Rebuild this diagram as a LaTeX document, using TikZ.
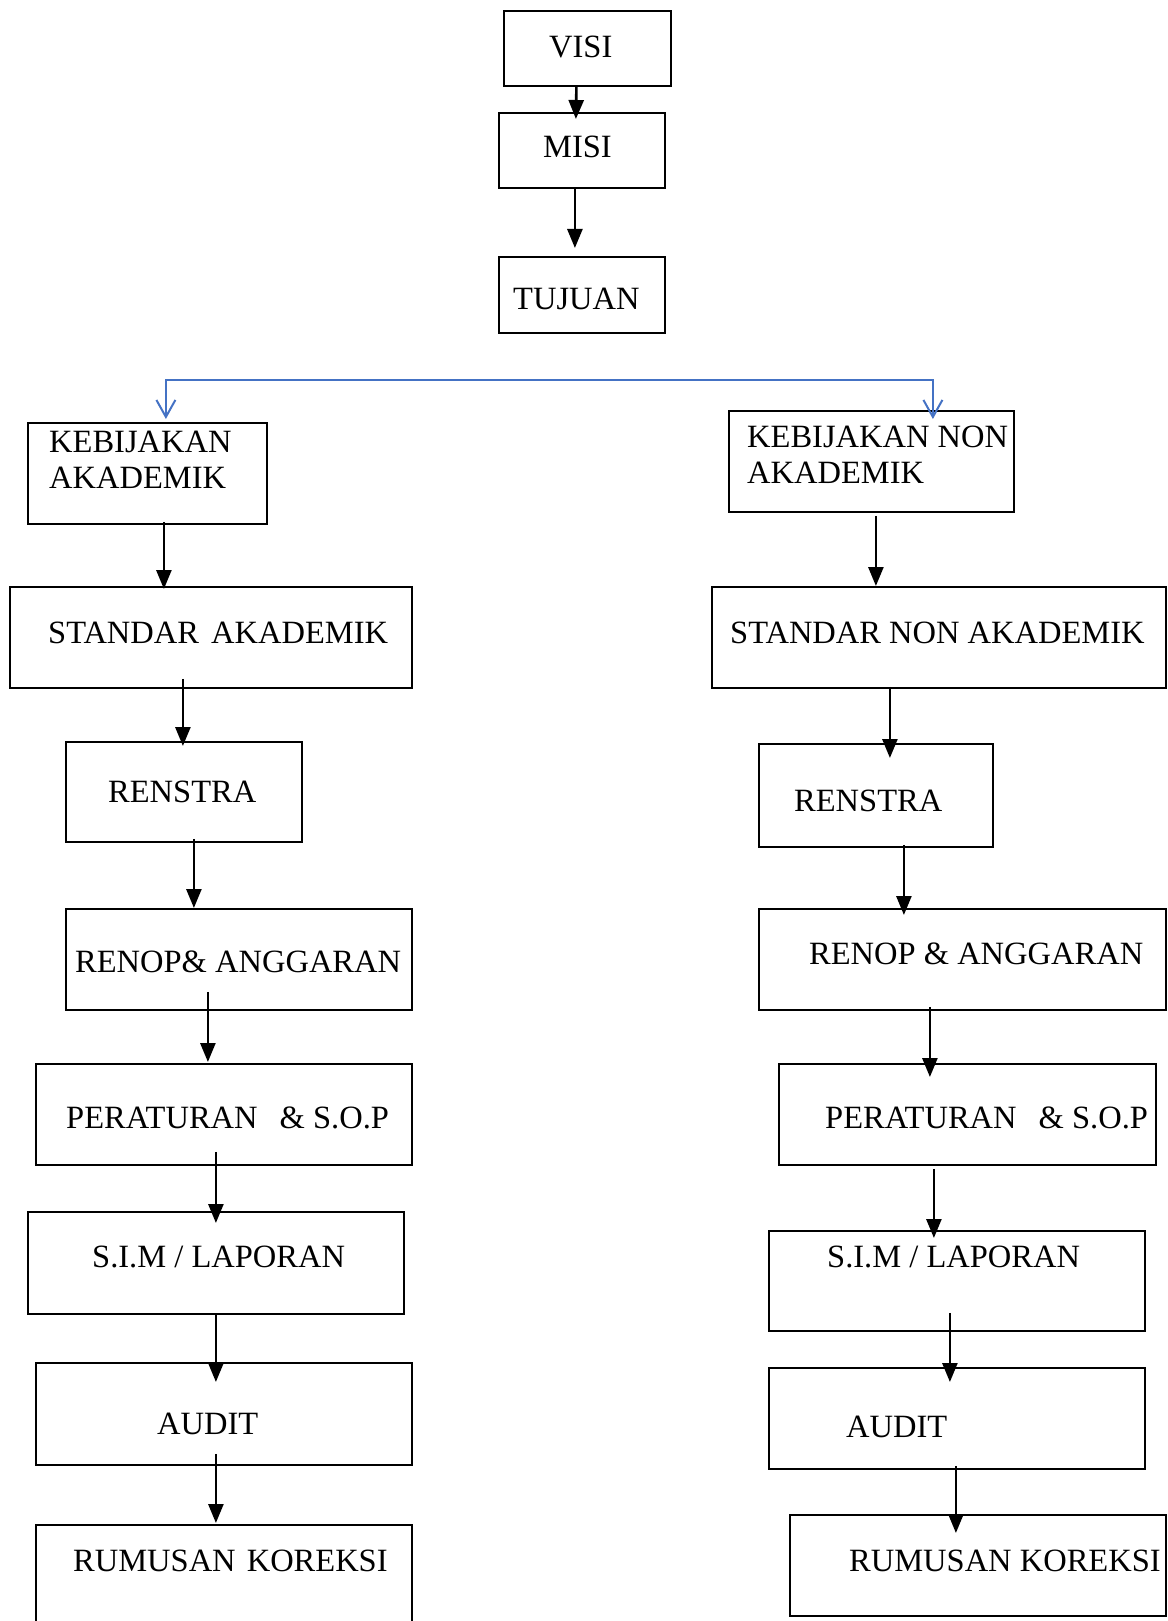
\documentclass[tikz,border=0pt]{standalone}
\usepackage{fontspec}
\setmainfont{Liberation Serif}
\usepackage{xcolor}
\usepackage{tikz}
\usetikzlibrary{arrows.meta,calc,positioning}
\definecolor{linkblue}{RGB}{68,114,196}
\tikzset{>=latex}
\tikzset{
  box/.style={draw, line width=1.8pt, inner sep=0pt, anchor=north west},
  lbl/.style={anchor=base west, inner sep=0pt, align=left, font=\fontsize{32.5}{36}\selectfont},
  arr/.style={-{Triangle[length=19pt,width=15pt]}, line width=2.6pt},
  splitarr/.style={-{Straight Barb[length=17pt,width=19pt,line width=2pt]}, line width=2.2pt, draw=linkblue}
}

\begin{document}
\begin{tikzpicture}[x=1pt,y=-1pt]
          \useasboundingbox (0,0) rectangle (1167,1621);
          % top
          \node[box, minimum width=167pt, minimum height=75pt] at (503,10) (visi) {};
          \node[lbl] at (549,58) (visiT) {VISI};
          \node[box, minimum width=166pt, minimum height=75pt] at (498,112) (misi) {};
          \node[lbl] at (543,158) (misiT) {MISI};
          \node[box, minimum width=166pt, minimum height=76pt] at (498,256) (tujuan) {};
          \node[lbl] at (513,309) (tujuanT) {TUJUAN};
          \draw[arr] ([shift={(-11,0)}]visi.south) -- ([shift={(-6,7)}]misi.north);
          \draw[arr] ([shift={(-7,0)}]misi.south) -- ([shift={(-7,-8)}]tujuan.north);

          % akademik
          \node[box, minimum width=239pt, minimum height=101pt] at (27,422) (ka) {};
          \node[lbl] at (49,488) (kaT) {KEBIJAKAN\\AKADEMIK};
          \node[box, minimum width=402pt, minimum height=101pt] at (9,586) (sa) {};
          \node[lbl] at (48,643) (saT) {STANDAR\hspace{4pt} AKADEMIK};
          \node[box, minimum width=236pt, minimum height=100pt] at (65,741) (ren) {};
          \node[lbl] at (108,802) (renT) {RENSTRA};
          \node[box, minimum width=346pt, minimum height=101pt] at (65,908) (rop) {};
          \node[lbl] at (75,972) (ropT) {RENOP\& ANGGARAN};
          \node[box, minimum width=376pt, minimum height=101pt] at (35,1063) (per) {};
          \node[lbl] at (66,1128) (perT) {PERATURAN\hspace{14pt} \& S.O.P};
          \node[box, minimum width=376pt, minimum height=102pt] at (27,1211) (sim) {};
          \node[lbl] at (92,1267) (simT) {S.I.M / LAPORAN};
          \node[box, minimum width=376pt, minimum height=102pt] at (35,1362) (aud) {};
          \node[lbl] at (157,1434) (audT) {AUDIT};
          \node[box, minimum width=376pt, minimum height=110pt] at (35,1524) (rk) {};
          \node[lbl] at (73,1571) (rkT) {RUMUSAN\hspace{3pt} KOREKSI};
          \draw[arr] ([shift={(16.5,-3)}]ka.south) -- ([shift={(-47,3)}]sa.north);
          \draw[arr] ([shift={(-28,-10)}]sa.south) -- ([shift={(-1,5)}]ren.north);
          \draw[arr] ([shift={(10,-4)}]ren.south) -- ([shift={(-45,0)}]rop.north);
          \draw[arr] ([shift={(-31,-19)}]rop.south) -- ([shift={(-16,-1)}]per.north);
          \draw[arr] ([shift={(-8,-14)}]per.south) -- ([shift={(0,12)}]sim.north);
          \draw[arr] (sim.south) -- ([shift={(-8,20)}]aud.north);
          \draw[arr] ([shift={(-8,-12)}]aud.south) -- ([shift={(-8,-1)}]rk.north);

          % non akademik
          \node[box, minimum width=285pt, minimum height=101pt] at (728,410) (kna) {};
          \node[lbl] at (747,483) (knaT) {KEBIJAKAN NON\\AKADEMIK};
          \node[box, minimum width=454pt, minimum height=101pt] at (711,586) (sna) {};
          \node[lbl] at (730,643) (snaT) {STANDAR NON AKADEMIK};
          \node[box, minimum width=234pt, minimum height=103pt] at (758,743) (ren2) {};
          \node[lbl] at (794,811) (ren2T) {RENSTRA};
          \node[box, minimum width=407pt, minimum height=101pt] at (758,908) (rop2) {};
          \node[lbl] at (809,964) (rop2T) {RENOP \& ANGGARAN};
          \node[box, minimum width=377pt, minimum height=101pt] at (778,1063) (per2) {};
          \node[lbl] at (825,1128) (per2T) {PERATURAN\hspace{14pt} \& S.O.P};
          \node[box, minimum width=376pt, minimum height=100pt] at (768,1230) (sim2) {};
          \node[lbl] at (827,1267) (sim2T) {S.I.M / LAPORAN};
          \node[box, minimum width=376pt, minimum height=101pt] at (768,1367) (aud2) {};
          \node[lbl] at (846,1437) (aud2T) {AUDIT};
          \node[box, minimum width=376pt, minimum height=101pt] at (789,1514) (rk2) {};
          \node[lbl] at (849,1571) (rk2T) {RUMUSAN KOREKSI};
          \draw[arr] ([shift={(4.5,3)}]kna.south) -- ([shift={(-63,0)}]sna.north);
          \draw[arr] ([shift={(-49,-2)}]sna.south) -- ([shift={(14,15)}]ren2.north);
          \draw[arr] ([shift={(28,-3)}]ren2.south) -- ([shift={(-58.5,7)}]rop2.north);
          \draw[arr] ([shift={(-32.5,-4)}]rop2.south) -- ([shift={(-37.5,14)}]per2.north);
          \draw[arr] ([shift={(-33.5,3)}]per2.south) -- ([shift={(-23,8)}]sim2.north);
          \draw[arr] ([shift={(-7,-19)}]sim2.south) -- ([shift={(-7,15)}]aud2.north);
          \draw[arr] ([shift={(-1,-4)}]aud2.south) -- ([shift={(-22,19)}]rk2.north);

          % split to both policies
          \coordinate (fork) at (554,380);
          \draw[splitarr] (fork) -| ([shift={(18.5,-3)}]ka.north);
          \draw[splitarr] (fork) -| ([shift={(61.5,9)}]kna.north);
\end{tikzpicture}
\end{document}
